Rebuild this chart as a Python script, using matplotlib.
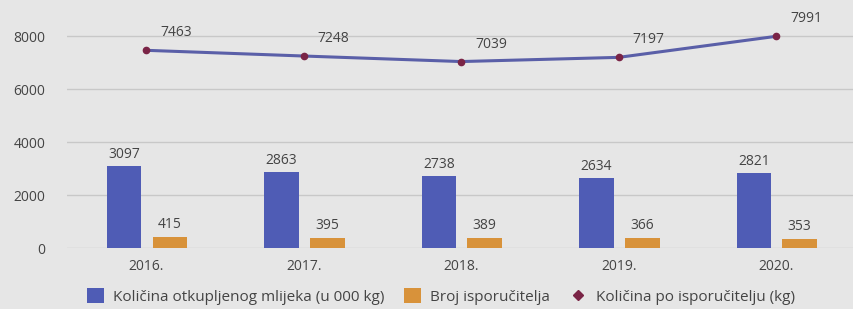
import matplotlib.pyplot as plt
from matplotlib.lines import Line2D
import numpy as np

years = ['2016.', '2017.', '2018.', '2019.', '2020.']
milk = [3097, 2863, 2738, 2634, 2821]
suppliers = [415, 395, 389, 366, 353]
per_supplier = [7463, 7248, 7039, 7197, 7991]

labels = ['Količina otkupljenog mlijeka (u 000 kg)', 'Broj isporučitelja',
          'Količina po isporučitelju (kg)']

bg = '#e6e6e6'
blue = '#4f5cb5'
orange = '#d8923a'
line_c = '#5a5fa8'
mark_c = '#7a2446'
txt = '#444444'
fs = 10

plt.rcParams['font.family'] = ['Open Sans', 'DejaVu Sans']

fig = plt.figure(figsize=(8.54, 3.09), dpi=100, facecolor=bg)
ax = fig.add_axes([0.079, 0.197, 0.922, 0.772], facecolor=bg)

x = np.arange(len(years))
w = 0.22
b1 = ax.bar(x - 0.14, milk, w, color=blue, label=labels[0], zorder=3)
b2 = ax.bar(x + 0.15, suppliers, w, color=orange, label=labels[1], zorder=3)
ax.plot(x, per_supplier, color=line_c, lw=2.2, marker='o', ms=4.5,
        mfc=mark_c, mec=mark_c, zorder=4)
ln = Line2D([], [], ls='none', marker='D', ms=5.5, color=mark_c, label=labels[2])

for xi, v in zip(x, milk):
    ax.annotate(str(v), (xi - 0.14, v), xytext=(0, 4), textcoords='offset pixels',
                ha='center', va='bottom', fontsize=fs, color=txt)
for xi, v in zip(x, suppliers):
    ax.annotate(str(v), (xi + 0.15, v), xytext=(0, 5), textcoords='offset pixels',
                ha='center', va='bottom', fontsize=fs, color=txt)
for xi, v in zip(x, per_supplier):
    ax.annotate(str(v), (xi, v), xytext=(30, 10), textcoords='offset pixels',
                ha='center', va='bottom', fontsize=fs, color=txt)

ax.set_xlim(-0.5, 4.5)
ax.set_ylim(0, 9000)
ax.set_yticks([0, 2000, 4000, 6000, 8000])
ax.set_xticks(x)
ax.set_xticklabels(years)
ax.tick_params(length=0, labelsize=fs, colors=txt)
ax.tick_params(axis='y', pad=16)
ax.tick_params(axis='x', pad=8)
ax.grid(axis='y', color='#c8c8c8', lw=1, zorder=0)
for s in ax.spines.values():
    s.set_visible(False)

fig.legend(handles=[b1, b2, ln], loc='center', bbox_to_anchor=(0.516, 0.04),
           ncol=3, frameon=False, fontsize=11, labelcolor=txt,
           handlelength=1.1, handleheight=1.1, handletextpad=0.6,
           columnspacing=1.3)

fig.savefig('out.png', dpi=100, facecolor=bg)
